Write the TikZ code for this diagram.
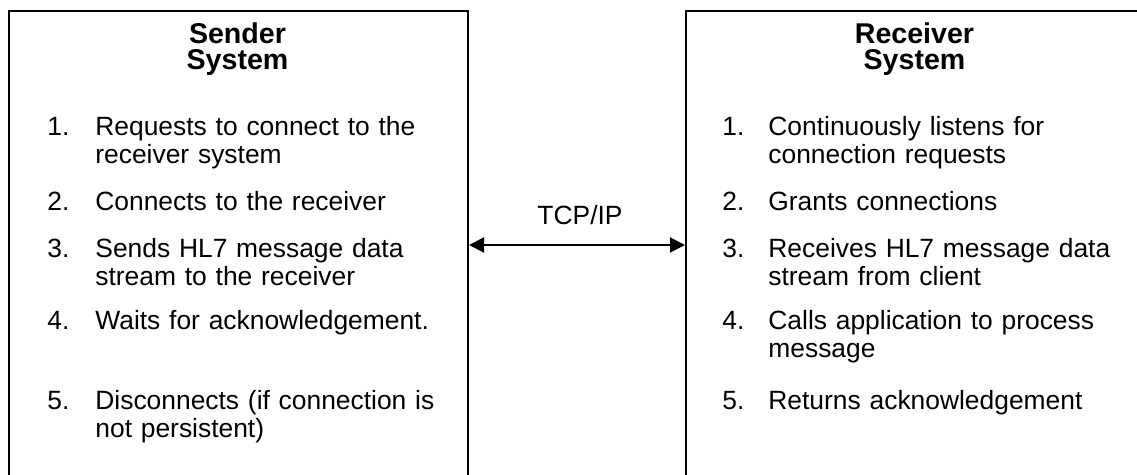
\documentclass[tikz,border=0pt]{standalone}
\usepackage{fontspec}
\setmainfont{Liberation Sans}
\usetikzlibrary{arrows.meta}
\tikzset{
    sysbox/.style={draw, line width=1pt, minimum width=229.5pt, minimum height=240pt, anchor=north west, inner sep=0pt},
    systitle/.style={anchor=base, inner sep=0pt, text width=200pt, align=center, font=\fontsize{14.3}{13}\selectfont\bfseries},
    num/.style={anchor=base west, inner sep=0pt, font=\fontsize{13.2}{14}\selectfont},
    entry/.style={anchor=base west, inner sep=0pt, text width=190pt, align=left, font=\fontsize{13.2}{14}\selectfont},
    duplex/.style={{Triangle[length=7.5pt,width=7.5pt]}-{Triangle[length=7.5pt,width=7.5pt]}, line width=1pt},
}

\begin{document}
\begin{tikzpicture}[x=0.5pt,y=-0.5pt]
            \clip (0,0) rectangle (1137,475);
            % the two systems
            \node[sysbox] (sender) at (8,10) {};
            \node[sysbox] (receiver) at (685,10) {};
            \node[systitle] (sendtitle) at (237.5,44) {Sender\\System};
            \node[systitle] (recvtitle) at (914.5,44) {Receiver\\System};
            % sender steps
            \node[num] (s1n) at (47,136) {1.};
            \node[entry] (s1) at (95,136) {Requests to connect to the\\receiver system};
            \node[num] (s2n) at (47,211) {2.};
            \node[entry] (s2) at (95,211) {Connects to the receiver};
            \node[num] (s3n) at (47,258) {3.};
            \node[entry] (s3) at (95,258) {Sends HL7 message data\\stream to the receiver};
            \node[num] (s4n) at (47,330) {4.};
            \node[entry] (s4) at (95,330) {Waits for acknowledgement.};
            \node[num] (s5n) at (47,410) {5.};
            \node[entry] (s5) at (95,410) {Disconnects (if connection is\\not persistent)};
            % receiver steps
            \node[num] (r1n) at (722,136) {1.};
            \node[entry] (r1) at (768,136) {Continuously listens for\\connection requests};
            \node[num] (r2n) at (722,211) {2.};
            \node[entry] (r2) at (768,211) {Grants connections};
            \node[num] (r3n) at (722,258) {3.};
            \node[entry] (r3) at (768,258) {Receives HL7 message data\\stream from client};
            \node[num] (r4n) at (722,330) {4.};
            \node[entry] (r4) at (768,330) {Calls application to process\\message};
            \node[num] (r5n) at (722,410) {5.};
            \node[entry] (r5) at (768,410) {Returns acknowledgement};
            % link between them
            \coordinate (link) at (576,245);
            \node[num, anchor=base] (tcp) at (580,225) {TCP/IP};
            \draw[duplex] (sender.east |- link) -- (receiver.west |- link);
        \end{tikzpicture}
\end{document}
